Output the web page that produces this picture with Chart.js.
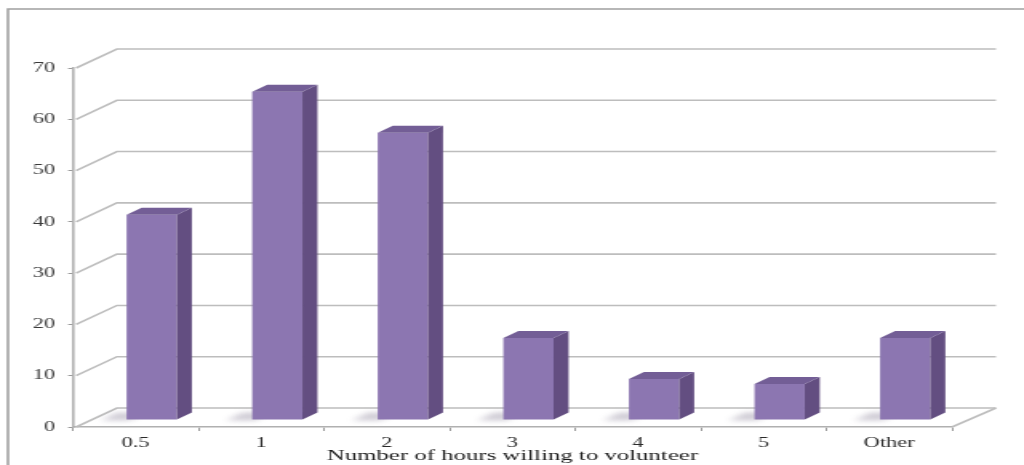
<!DOCTYPE html>
<html>
<head>
<meta charset="utf-8">
<script src="https://cdn.jsdelivr.net/npm/chart.js@4/dist/chart.umd.min.js"></script>
<style>
  html, body { margin: 0; padding: 0; background: #ffffff; overflow: hidden; }
  /* the whole drawing is laid out narrow and widened horizontally */
  #wrap { width: 640px; height: 465px; transform: scaleX(1.6); transform-origin: 0 0; }
  canvas { display: block; }
</style>
</head>
<body>
<div id="wrap"><canvas id="chart" width="640" height="465"></canvas></div>
<script>
// Survey answers: hours per week respondents are willing to volunteer
const categories = ['0.5', '1', '2', '3', '4', '5', 'Other'];
const respondents = [40, 64, 56, 16, 8, 7, 16];
const axisMin = 0;
const axisMax = 70;
const axisStep = 10;
const axisTitle = 'Number of hours willing to volunteer';

// pseudo-3D geometry (in unstretched canvas pixels)
const WALL_DX = 27.5, WALL_DY = 19;   // depth of the back wall
const BAR_DX = 10, BAR_DY = 7;        // where the bar front sits inside the depth
const SIDE_DX = 9.4, SIDE_DY = 7;     // bar thickness

const SIDE = '#634e81';
const TOP = '#735e96';
const GRID = '#bdbdbd';

// front faces get a gentle left-to-right shading
function frontFill(context) {
  const el = context.element;
  const ctx = context.chart.ctx;
  if (!el || !isFinite(el.x) || !isFinite(el.width)) return '#8c76b1';
  const x0 = el.x - el.width / 2, x1 = el.x + el.width / 2;
  const g = ctx.createLinearGradient(x0, 0, x1, 0);
  g.addColorStop(0, '#876fab');
  g.addColorStop(0.45, '#917bb6');
  g.addColorStop(1, '#8670ab');
  return g;
}

const framePlugin = {
  id: 'frame',
  beforeDraw(chart) {
    const ctx = chart.ctx;
    ctx.save();
    ctx.strokeStyle = '#a0a0a0';
    ctx.lineWidth = 1.6;
    ctx.beginPath();
    ctx.moveTo(5, 465);
    ctx.lineTo(5, 9);
    ctx.lineTo(640, 9);
    ctx.stroke();
    ctx.restore();
  }
};

const depthPlugin = {
  id: 'depth',
  beforeDatasetsDraw(chart) {
    const ctx = chart.ctx;
    const y = chart.scales.y;
    const {left, right, bottom} = chart.chartArea;
    ctx.save();
    ctx.strokeStyle = GRID;
    ctx.lineWidth = 1.6;
    // back wall lines and left wall diagonals
    for (let v = axisMin; v <= axisMax; v += axisStep) {
      const py = y.getPixelForValue(v);
      ctx.beginPath();
      ctx.moveTo(left + 2, py);
      ctx.lineTo(left + WALL_DX, py - WALL_DY);
      ctx.lineTo(right + WALL_DX, py - WALL_DY);
      ctx.stroke();
    }
    // right edge of the floor
    ctx.beginPath();
    ctx.moveTo(right, bottom);
    ctx.lineTo(right + WALL_DX, bottom - WALL_DY);
    ctx.stroke();

    // soft floor shadows behind each bar
    const meta = chart.getDatasetMeta(0);
    ctx.filter = 'blur(2.5px)';
    ctx.fillStyle = 'rgba(105, 95, 125, 0.32)';
    meta.data.forEach(bar => {
      const xl = bar.x - bar.width / 2 + BAR_DX;
      const yb = bar.base - BAR_DY;
      ctx.beginPath();
      ctx.moveTo(xl - 16, yb + 1);
      ctx.lineTo(xl + 2, yb + 1);
      ctx.lineTo(xl + SIDE_DX + 2, yb - SIDE_DY);
      ctx.lineTo(xl - 6, yb - SIDE_DY);
      ctx.closePath();
      ctx.fill();
    });
    ctx.restore();

    // bars stand a little behind the front edge of the floor
    ctx.save();
    ctx.translate(BAR_DX, -BAR_DY);
  },
  afterDatasetsDraw(chart) {
    const ctx = chart.ctx;
    const meta = chart.getDatasetMeta(0);
    meta.data.forEach(bar => {
      const xl = bar.x - bar.width / 2;
      const xr = bar.x + bar.width / 2;
      const yt = bar.y;
      const yb = bar.base;
      // side face
      ctx.fillStyle = SIDE;
      ctx.beginPath();
      ctx.moveTo(xr, yt);
      ctx.lineTo(xr + SIDE_DX, yt - SIDE_DY);
      ctx.lineTo(xr + SIDE_DX, yb - SIDE_DY);
      ctx.lineTo(xr, yb);
      ctx.closePath();
      ctx.fill();
      // top face
      ctx.fillStyle = TOP;
      ctx.beginPath();
      ctx.moveTo(xl, yt);
      ctx.lineTo(xl + SIDE_DX, yt - SIDE_DY);
      ctx.lineTo(xr + SIDE_DX, yt - SIDE_DY);
      ctx.lineTo(xr, yt);
      ctx.closePath();
      ctx.fill();
    });
    ctx.restore();
  }
};

new Chart(document.getElementById('chart'), {
  type: 'bar',
  data: {
    labels: categories,
    datasets: [{
      data: respondents,
      backgroundColor: frontFill,
      borderWidth: 0,
      barPercentage: 0.4,
      categoryPercentage: 1
    }]
  },
  options: {
    responsive: false,
    devicePixelRatio: 1,
    animation: false,
    layout: { padding: { top: 68, right: 45, left: 0, bottom: 0 } },
    plugins: { legend: { display: false }, tooltip: { enabled: false } },
    scales: {
      x: {
        afterFit(scale) { scale.height = 38; },
        grid: { display: true, drawOnChartArea: false, drawTicks: true, tickLength: 4, color: '#9a9a9a', offset: true },
        border: { display: true, color: '#b0b0b0', width: 1.6 },
        ticks: { color: '#2a2a2a', padding: 4, font: { family: 'Liberation Serif', size: 14 } },
        title: {
          display: true,
          text: axisTitle,
          color: '#1a1a1a',
          padding: { top: 0, bottom: 0 },
          font: { family: 'Liberation Serif', size: 15.5 }
        }
      },
      y: {
        min: axisMin,
        max: axisMax,
        afterFit(scale) { scale.width = 45.6; },
        grid: { display: true, drawOnChartArea: false, drawTicks: true, tickLength: 3, color: '#9a9a9a' },
        border: { display: true, color: '#b0b0b0', width: 1.6 },
        ticks: { stepSize: axisStep, color: '#3a3a3a', padding: 8, font: { family: 'Liberation Serif', size: 14 } }
      }
    }
  },
  plugins: [framePlugin, depthPlugin]
});
</script>
</body>
</html>
